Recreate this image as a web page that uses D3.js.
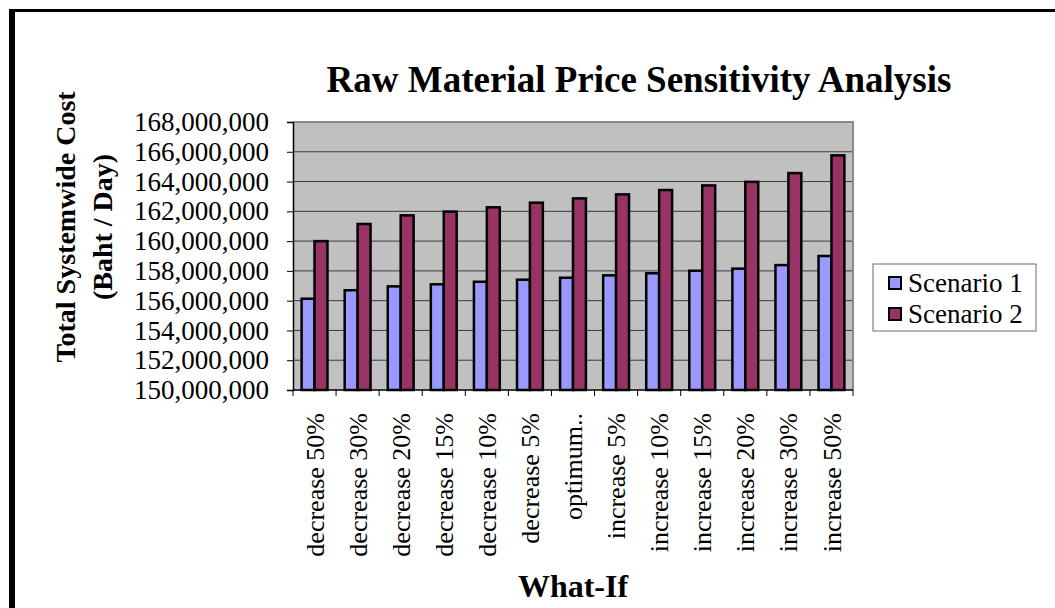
<!DOCTYPE html>
<html>
<head>
<meta charset="utf-8">
<script src="https://cdn.jsdelivr.net/npm/d3@7"></script>
<style>
    body { margin: 0; background: #fff; }
    text { font-family: "Liberation Serif", "Times New Roman", serif; fill: #000; }
</style>
</head>
<body>
<div id="chart"></div>
<script>
// Data
const categories = ["decrease 50%", "decrease 30%", "decrease 20%", "decrease 15%", "decrease 10%", "decrease 5%",
    "optimum..", "increase 5%", "increase 10%", "increase 15%", "increase 20%", "increase 30%", "increase 50%"];
const scenario1 = [156130000, 156700000, 156960000, 157100000, 157270000, 157410000, 157540000,
    157700000, 157840000, 158010000, 158150000, 158390000, 159000000];
const scenario2 = [160000000, 161150000, 161730000, 161980000, 162270000, 162580000, 162870000,
    163140000, 163430000, 163740000, 163980000, 164570000, 165760000];
const seriesNames = ["Scenario 1", "Scenario 2"];
const seriesColors = ["#9999ff", "#993366"];
const yTicks = d3.range(150000000, 168000001, 2000000);

const width = 1055, height = 608;
const plot = {left: 293, right: 853, top: 122, bottom: 390};

const svg = d3.select("#chart").append("svg")
    .attr("width", width)
    .attr("height", height);

svg.append("rect").attr("width", width).attr("height", height).attr("fill", "#fff");

// outer frame (top + left edges visible)
svg.append("line").attr("x1", 9).attr("x2", width).attr("y1", 10.5).attr("y2", 10.5)
    .attr("stroke", "#000").attr("stroke-width", 3);
svg.append("line").attr("x1", 12).attr("x2", 12).attr("y1", 9).attr("y2", height)
    .attr("stroke", "#000").attr("stroke-width", 6);

// scales
const x0 = d3.scaleBand()
    .domain(categories)
    .range([plot.left, plot.right])
    .paddingInner(0.4)
    .paddingOuter(0.2);

const x1 = d3.scaleBand()
    .domain(seriesNames)
    .range([0, x0.bandwidth()]);

const y = d3.scaleLinear()
    .domain([150000000, 168000000])
    .range([plot.bottom, plot.top]);

// plot background
svg.append("rect")
    .attr("x", plot.left).attr("y", plot.top)
    .attr("width", plot.right - plot.left).attr("height", plot.bottom - plot.top)
    .attr("fill", "#c0c0c0");

// gridlines
svg.append("g")
    .selectAll("line")
    .data(yTicks.slice(1))
    .join("line")
    .attr("x1", plot.left).attr("x2", plot.right)
    .attr("y1", d => y(d)).attr("y2", d => y(d))
    .attr("stroke", "#3a3a3a").attr("stroke-width", 1);

// plot border top/right
svg.append("path")
    .attr("d", `M${plot.left},${plot.top}H${plot.right}V${plot.bottom}`)
    .attr("fill", "none").attr("stroke", "#8a8a8a").attr("stroke-width", 2);

// bars
const rows = categories.map((c, i) => ({cat: c, values: [scenario1[i], scenario2[i]]}));

const groups = svg.append("g")
    .selectAll("g")
    .data(rows)
    .join("g")
    .attr("transform", d => `translate(${x0(d.cat)},0)`);

groups.selectAll("rect")
    .data(d => d.values.map((v, k) => ({name: seriesNames[k], value: v, color: seriesColors[k]})))
    .join("rect")
    .attr("x", d => x1(d.name))
    .attr("y", d => y(d.value))
    .attr("width", x1.bandwidth())
    .attr("height", d => plot.bottom - y(d.value))
    .attr("fill", d => d.color)
    .attr("stroke", "#000")
    .attr("stroke-width", 2.5);

// y axis
const yAxis = d3.axisLeft(y)
    .tickValues(yTicks)
    .tickSize(6)
    .tickPadding(18)
    .tickFormat(d3.format(",.0f"));

const yG = svg.append("g")
    .attr("transform", `translate(${plot.left},0)`)
    .call(yAxis);
yG.select(".domain").attr("stroke", "#000").attr("stroke-width", 1.5);
yG.selectAll(".tick line").attr("stroke", "#000");
yG.selectAll(".tick text")
    .style("font-size", "27px")
    .attr("fill", "#000")
    .attr("font-family", "Liberation Serif");

// x axis line with ticks at category boundaries
svg.append("line")
    .attr("x1", plot.left).attr("x2", plot.right)
    .attr("y1", plot.bottom).attr("y2", plot.bottom)
    .attr("stroke", "#000").attr("stroke-width", 1.5);

const step = x0.step();
svg.append("g")
    .selectAll("line")
    .data(d3.range(categories.length + 1))
    .join("line")
    .attr("x1", i => plot.left + i * step)
    .attr("x2", i => plot.left + i * step)
    .attr("y1", plot.bottom).attr("y2", plot.bottom + 6)
    .attr("stroke", "#000");

svg.append("g")
    .selectAll("text")
    .data(categories)
    .join("text")
    .attr("transform", d => `translate(${x0(d) + x0.bandwidth() / 2},413) rotate(-90)`)
    .attr("text-anchor", "end")
    .attr("dy", "0.35em")
    .style("font-size", "26px")
    .text(d => d);

// titles
svg.append("text")
    .attr("x", 639).attr("y", 92)
    .attr("text-anchor", "middle")
    .style("font-size", "37px")
    .style("font-weight", "bold")
    .text("Raw Material Price Sensitivity Analysis");

svg.append("text")
    .attr("x", 573).attr("y", 597)
    .attr("text-anchor", "middle")
    .style("font-size", "32px")
    .style("font-weight", "bold")
    .text("What-If");

const yTitle = svg.append("text")
    .attr("transform", "translate(75,227) rotate(-90)")
    .attr("text-anchor", "middle")
    .style("font-size", "28px")
    .style("font-weight", "bold");
yTitle.append("tspan").attr("x", 0).attr("y", 0).text("Total Systemwide Cost");
yTitle.append("tspan").attr("x", 0).attr("y", 37).text("(Baht / Day)");

// legend
const legend = svg.append("g").attr("transform", "translate(873,264)");
legend.append("rect")
    .attr("width", 163).attr("height", 67)
    .attr("fill", "#fff").attr("stroke", "#6a6a6a").attr("stroke-width", 1);

const items = legend.selectAll("g")
    .data(seriesNames)
    .join("g")
    .attr("transform", (d, i) => `translate(0,${19 + i * 31})`);
items.append("rect")
    .attr("x", 16).attr("y", -6)
    .attr("width", 12).attr("height", 12)
    .attr("fill", (d, i) => seriesColors[i])
    .attr("stroke", "#000").attr("stroke-width", 2);
items.append("text")
    .attr("x", 35).attr("dy", "0.35em")
    .style("font-size", "27px")
    .text(d => d);
</script>
</body>
</html>
